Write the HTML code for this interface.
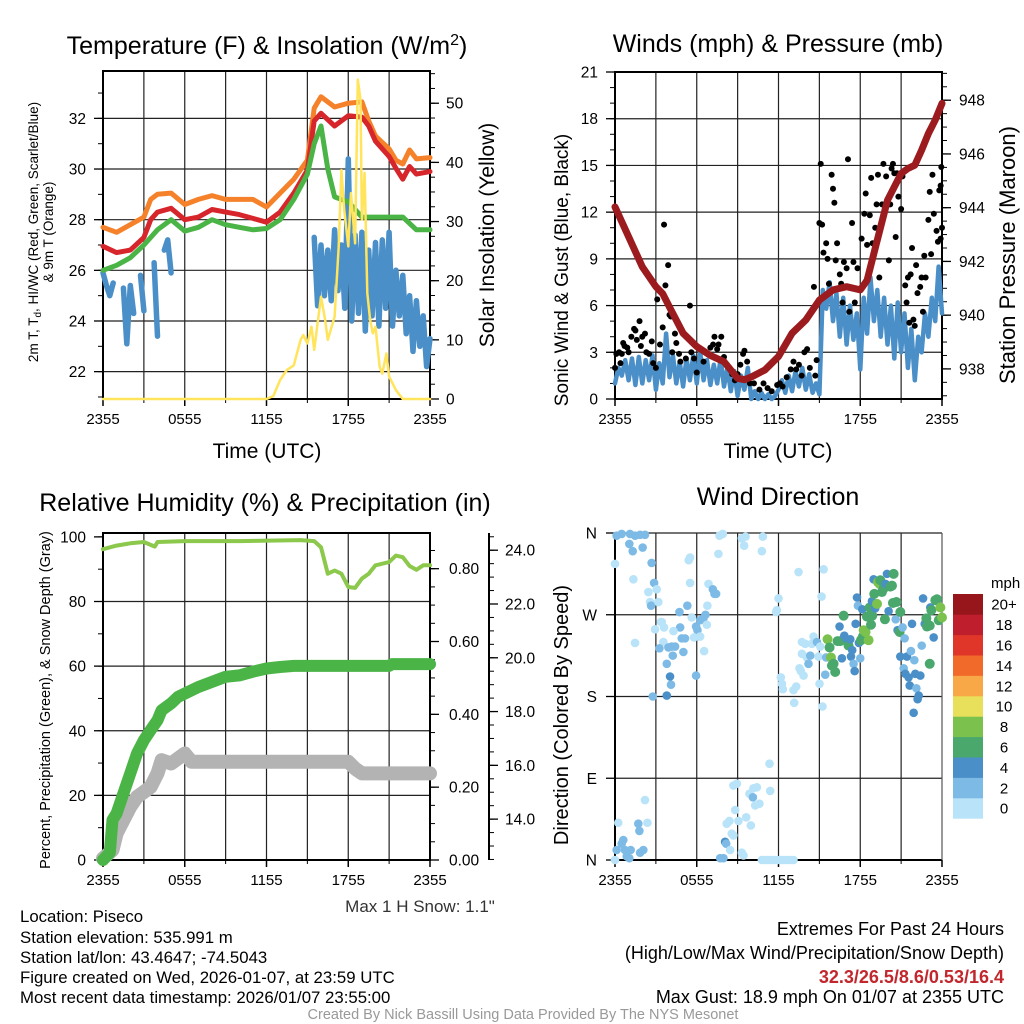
<!DOCTYPE html>
<html><head><meta charset="utf-8">
<style>
html,body{margin:0;padding:0;background:#fff;}
svg{display:block;font-family:"Liberation Sans",Arial,sans-serif;}
</style></head>
<body>
<svg id="fig" width="1024" height="1024" viewBox="0 0 1024 1024" xmlns="http://www.w3.org/2000/svg">
<rect width="1024" height="1024" fill="#fff"/>
<g id="p1"></g>
<g id="p2"></g>
<g id="p3"></g>
<g id="p4"></g>
<text x="267" y="54" font-size="25" text-anchor="middle">Temperature (F) &amp; Insolation (W/m<tspan dy="-9" font-size="16">2</tspan><tspan dy="9">)</tspan></text>
<text x="778" y="52" font-size="25" text-anchor="middle">Winds (mph) &amp; Pressure (mb)</text>
<text x="265" y="511" font-size="25" text-anchor="middle">Relative Humidity (%) &amp; Precipitation (in)</text>
<text x="778" y="505" font-size="25" text-anchor="middle">Wind Direction</text>
<text x="267" y="458" font-size="21" text-anchor="middle">Time (UTC)</text>
<text x="778" y="458" font-size="21" text-anchor="middle">Time (UTC)</text>
<text transform="translate(38,232) rotate(-90)" font-size="13.5" text-anchor="middle">2m T, T<tspan font-size="10" dy="3">d</tspan><tspan dy="-3">, HI/WC (Red, Green, Scarlet/Blue)</tspan></text>
<text transform="translate(53,232) rotate(-90)" font-size="13.5" text-anchor="middle">&amp; 9m T (Orange)</text>
<text transform="translate(494,235) rotate(-90)" font-size="21" text-anchor="middle">Solar Insolation (Yellow)</text>
<text transform="translate(568,270) rotate(-90)" font-size="19" text-anchor="middle">Sonic Wind &amp; Gust (Blue, Black)</text>
<text transform="translate(1015,255) rotate(-90)" font-size="22" text-anchor="middle">Station Pressure (Maroon)</text>
<text transform="translate(50,700) rotate(-90)" font-size="14.5" text-anchor="middle">Percent, Precipitation (Green), &amp; Snow Depth (Gray)</text>
<text transform="translate(568,715) rotate(-90)" font-size="20" text-anchor="middle">Direction (Colored By Speed)</text>
<text x="991" y="588" font-size="15">mph</text>
<text x="420" y="912" font-size="17" fill="#333" text-anchor="middle">Max 1 H Snow: 1.1"</text>
<g font-size="16.8">
<text x="20" y="922">Location: Piseco</text>
<text x="20" y="943">Station elevation: 535.991 m</text>
<text x="20" y="963">Station lat/lon: 43.4647; -74.5043</text>
<text x="20" y="983">Figure created on Wed, 2026-01-07, at 23:59 UTC</text>
<text x="20" y="1003">Most recent data timestamp: 2026/01/07 23:55:00</text>
</g>
<g font-size="18" text-anchor="end">
<text x="1004" y="935">Extremes For Past 24 Hours</text>
<text x="1004" y="959">(High/Low/Max Wind/Precipitation/Snow Depth)</text>
<text x="1004" y="983" fill="#c1272d" font-weight="bold">32.3/26.5/8.6/0.53/16.4</text>
<text x="1004" y="1003">Max Gust: 18.9 mph On 01/07 at 2355 UTC</text>
</g>
<text x="523" y="1019" font-size="14.5" fill="#999" text-anchor="middle">Created By Nick Bassill Using Data Provided By The NYS Mesonet</text>
</svg>
<script>
// ---------- data ----------
const timeTickLabels = ["2355","0555","1155","1755","2355"];
const lineHours = [0,1,2,3,3.5,4,5,6,7,8,9,10,11,12,13,14,15,15.5,16,17,18,19,19.5,20,21,21.5,22,22.5,23,24];
const temp2m = [26.95,26.7,26.8,27.3,28.0,28.3,28.45,28.0,28.1,28.4,28.3,28.2,28.05,27.9,28.3,29.05,29.96,31.9,32.2,31.7,32.1,32.05,31.7,31.1,30.5,30.03,29.6,30.1,29.8,29.9];
const temp9m = [27.7,27.5,27.8,28.1,28.8,29.0,29.05,28.6,28.8,28.95,28.8,28.8,28.8,28.5,29.05,29.6,30.35,32.4,32.85,32.45,32.6,32.65,31.9,31.3,30.8,30.35,30.2,30.75,30.4,30.45];
const heatIndexHours = [0,1,2,3,4,5,6,7,8,9,10,11,12,13,14,15,15.5,16,16.5,17,18,19,20,21,22,23,24];
const heatIndex = [26.0,26.2,26.5,27.0,27.6,28.0,27.55,27.7,28.0,27.8,27.7,27.6,27.65,28.0,28.8,29.8,31.0,31.7,30.0,28.9,28.7,28.1,28.1,28.1,28.1,27.6,27.6];
const dewHours = [0,0.25,0.5,0.75,1,1.25,1.5,1.75,2,2.25,2.5,2.75,3,3.25,3.5,3.75,4,4.25,4.5,4.75,5,5.25,15.25,15.5,15.75,16,16.25,16.5,16.75,17,17.25,17.5,17.75,18,18.25,18.5,18.75,19,19.25,19.5,19.75,20,20.25,20.5,20.75,21,21.25,21.5,21.75,22,22.25,22.5,22.75,23,23.25,23.5,23.75,24];
const dewPoint = [25.9,25.4,25.0,25.5,null,null,25.3,23.1,25.4,24.3,null,25.8,24.4,null,null,26.3,23.4,null,26.8,27.2,25.9,null,null,27.3,24.6,27.0,25.0,26.8,24.8,27.6,25.2,27.0,24.5,30.4,24.0,27.4,24.3,27.5,23.6,26.8,24.2,27.1,23.8,27.2,24.5,27.5,23.8,26.0,24.2,25.8,23.5,25.0,22.8,24.8,23.0,24.2,22.2,23.3];
const solarHours = [0,12,12.5,13,13.5,14,14.5,14.7,15,15.3,15.5,16,16.3,16.5,17,17.3,17.5,17.7,18,18.2,18.5,18.7,18.9,19,19.2,19.4,19.6,19.8,20,20.3,20.5,20.8,21,21.5,22,24];
const solarRad = [0,0,0.5,3.2,4.9,5.7,10,10.8,9.4,12.2,8.3,17.3,13.4,10,13.9,25.8,38.7,32,25.8,34.8,26.3,54,50.6,30.3,38.2,17.9,13.4,11.1,12.2,5.5,4.3,7.7,3.8,1.5,0,0];
const tempTicks = [22,24,26,28,30,32];
const solarTicks = [0,10,20,30,40,50];

const windHours = Array.from({length:97},(_,i)=>i*0.25);
const windSpeed = [1.0,2.0,1.5,2.5,1.2,2.6,0.9,2.7,1.0,2.5,1.2,2.8,0.6,2.3,1.0,4.2,1.4,2.8,1.0,2.4,0.8,2.6,1.2,2.8,1.0,3.0,1.2,2.5,0.9,2.2,1.0,2.6,0.8,2.0,0.5,1.8,0.2,1.5,0.6,2.0,0.0,0.5,0.0,0.4,0.0,0.3,0.0,0.2,0.6,1.2,0.4,1.5,0.5,1.8,0.8,2.0,0.6,1.6,0.4,1.0,0.3,7.0,5.8,7.5,5.0,6.8,4.0,6.5,3.5,6.0,3.8,5.5,1.9,6.5,4.2,7.8,5.0,7.0,4.0,6.5,3.5,6.0,2.6,6.2,3.0,5.5,2.0,4.5,1.2,4.0,3.0,5.5,4.0,6.5,5.0,8.5,5.5];
const gustHours = [0.0,0.1,0.3,0.4,0.5,0.6,0.7,0.9,1.0,1.2,1.4,1.5,1.6,1.8,1.9,2.0,2.2,2.3,2.5,2.7,2.8,3.0,3.1,3.3,3.5,3.6,3.7,3.9,4.0,4.1,4.2,4.4,4.5,4.7,4.8,5.2,5.5,5.6,5.8,6.0,6.3,6.5,6.8,7.0,7.2,7.3,7.5,7.6,7.8,8.0,8.2,8.4,8.6,8.8,9.0,9.2,9.4,9.5,9.7,9.9,10.2,10.6,10.9,11.2,11.5,11.9,12.1,12.3,12.6,12.9,13.1,13.3,13.5,13.7,13.9,14.1,14.3,14.6,14.7,14.8,15.0,15.1,15.2,15.3,15.5,15.6,15.7,15.9,16.0,16.1,16.2,16.3,16.5,16.6,16.7,16.8,17.0,17.1,17.2,17.4,17.5,17.6,17.8,17.9,18.1,18.3,18.4,18.5,18.7,18.8,18.9,19.1,19.2,19.3,19.4,19.6,19.7,19.9,20.1,20.2,20.3,20.4,20.5,20.6,20.7,20.8,21.0,21.1,21.3,21.4,21.5,21.6,21.7,21.8,21.9,22.0,22.1,22.2,22.4,22.5,22.6,22.7,22.8,23.0,23.1,23.2,23.3,23.4,23.6,23.7,23.8,23.9,24.0,23.9,23.95];
const gustSpeed = [2.0,2.9,3.0,2.3,2.9,3.6,3.4,3.3,3.0,4.0,4.5,4.4,3.8,5.0,3.4,4.0,4.2,3.0,2.9,3.7,2.3,2.0,6.4,3.5,4.6,11.2,7.3,8.6,5.4,5.3,3.0,4.2,3.6,2.9,2.4,2.6,6.0,3.0,2.6,1.7,3.2,2.4,2.9,3.3,3.5,4.0,3.2,3.5,4.0,2.7,2.2,2.0,1.6,1.2,1.6,2.2,2.9,3.1,2.4,1.0,1.0,0.6,1.0,0.7,0.5,0.9,1.0,0.8,1.4,1.9,2.4,1.9,2.2,1.5,3.0,3.2,2.0,7.2,1.5,2.5,11.3,15.1,11.2,9.4,10.0,9.0,7.4,14.4,13.5,12.6,8.9,10.0,8.0,7.4,6.2,8.8,8.4,15.4,5.6,11.3,8.8,6.2,8.4,7.0,10.3,11.9,13.2,9.9,11.8,14.2,10.0,11.0,12.5,14.4,7.8,12.5,15.1,14.3,8.9,12.5,14.8,15.1,14.5,10.4,14.5,13.0,12.2,14.3,7.3,6.2,7.8,4.9,8.0,9.7,5.1,4.7,8.6,6.8,7.2,7.8,5.6,9.2,7.8,11.5,13.3,9.3,14.4,11.9,10.8,10.1,13.4,13.7,11.0,10.3,14.9];
const pressureHours = [0,1,2,3,3.5,4,5,6,7,8,9,9.5,10,11,12,13,14,15,16,17,18,18.5,19,20,21,21.5,22,22.5,23,23.5,24];
const pressure = [944.03,942.92,941.8,941.06,940.8,940.3,939.33,938.83,938.5,938.27,937.65,937.6,937.7,937.96,938.46,939.33,939.82,940.56,940.94,941.06,940.94,941.3,942.3,944.28,945.27,945.46,945.58,946.14,946.76,947.26,947.88];
const windTicks = [0,3,6,9,12,15,18,21];
const pressureTicks = [938,940,942,944,946,948];

const rhHours = [0,1,2,3,3.8,4,6,10,14.5,15.5,16,16.5,17,17.5,18,18.5,19,19.5,20,21,21.5,22,22.5,23,23.5,24];
const relHumidity = [96.2,97.3,98,98.4,97,98.4,98.7,98.7,99,98.7,96.8,88.6,89.6,88.6,84.5,84.2,87.1,88.6,91.2,92.2,94.2,93.7,91.0,89.8,91.2,91.2];
const precipHours = [0,0.5,0.7,1,1.5,2,2.5,3,3.5,4,4.3,5,5.5,6,7,8,9,10,11,12,13,14,21,21.2,24];
const precip = [0,0.02,0.11,0.128,0.183,0.238,0.293,0.329,0.357,0.384,0.411,0.43,0.448,0.457,0.475,0.489,0.503,0.507,0.517,0.526,0.53,0.533,0.533,0.538,0.538];
const snowHours = [0,0.7,1,1.5,2,2.5,3,3.5,4,4.3,5,6,6.5,18,18.5,19,24];
const snowDepth = [12.54,12.85,13.47,13.96,14.46,14.83,15.01,15.2,15.7,16.19,16.07,16.44,16.13,16.13,15.88,15.7,15.7];
const rhTicks = [0,20,40,60,80,100];
const precipTicks = [0,0.2,0.4,0.6,0.8];
const precipTickLabels = ["0.00","0.20","0.40","0.60","0.80"];
const snowTicks = [14,16,18,20,22,24];
const snowTickLabels = ["14.0","16.0","18.0","20.0","22.0","24.0"];

const dirHours = [0.12,0.49,1.1,1.47,1.84,2.2,0,1.05,1.3,2.03, 1.35,2.69,2.87,3.06,2.45,2.57,2.65,3.18,3.43,2.94, 3.6,3.36,4.73,5.31,5.51,5.41,5.51,4.78,4.29,4.9, 5.14,3.55,3.26,3.92,4.16,4.41,4.24,5.02,3.8,4.04, 4.11,3.8,2.77,1.47,5.63,5.95,6.05,6.25,6.49,6.64, 6.74,5.8,6.25,6.54,5.95,6.86,7.18,7.3,7.42,6.78, 7.59,7.67,7.91,9.31,9.48,9.58,10.85,10.78, 12.0,11.88,11.83,12.17,12.25,12.32,13.1,13.3,13.15,13.47, 13.54,13.64,13.84,13.72,13.96,13.72,14.08,14.33,14.2,14.57, 14.45,14.82,15.06,14.94,15.01,15.23,15.31,15.16,15.43,15.5, 15.6,15.75,15.85,15.92,16.04,16.16,16.34,16.48,16.53,16.65, 16.78,16.83,17.02,17.14,17.27,17.32,17.41,17.51,17.59,17.66, 17.76,17.83,18.0,17.9,18.05,18.15,18.2,18.25,18.39,18.49, 18.61,18.69,18.79,18.86,18.88,18.98,19.03,19.1,19.23,19.3, 19.42,19.47,19.59,19.72,19.81,19.86,19.96,20.08,20.21,20.33, 20.45,20.4,20.6,20.65,20.74,20.89,20.94,21.11,21.26,20.94, 21.19,21.31,21.43,21.55,21.63,21.8,21.72,21.97,22.04,22.12, 22.29,22.21,22.41,22.51,21.92,22.61,22.73,22.9,22.85,23.1, 23.14,23.22,23.39,23.51,23.63,23.76,23.88,24.0,23.1, 0,0.24,0.12,0.49,0.61,0.73,0.86,1.05,1.15,1.71, 1.79,1.84,2.08,2.2,2.38,7.72,7.96,8.08,8.16,8.2, 8.4,8.45,8.57,8.69,8.82,8.69,8.94,9.06,9.31,9.43, 9.63,9.87,9.97,10.12,10.16,10.41,10.6,10.29,11.34,11.39, 10.78,10.97,11.16,11.35,11.55,11.74,11.94,12.13,12.33,12.52,12.72,12.91,13.1];
const dirDegrees = [357,359,359,357,358,358,326,348,340,344, 309,327,305,298,295,284,280,284,262,254, 256,262,273,280,333,330,305,256,252,244, 244,240,233,234,235,235,225,229,216,202, 193,181,180,239,267,257,253,264,266,270, 259,245,246,230,203,304,298,293,293,280, 337,357,359,354,346,356,356,340, 288,275,273,201,194,188,187,191,173,317, 211,208,203,240,238,227,223,225,216,246, 238,240,235,224,194,169,320,290,204,223, 243,234,223,214,216,207,241,257,241,222, 269,247,243,236,243,224,231,216,208,260, 289,280,222,239,242,276,246,253,251,268, 242,278,259,285,269,309,293,277,282,306, 304,308,295,299,265,304,315,274,301,302, 315,283,265,284,253,251,273,256,244,224, 211,205,224,201,192,260,230,220,205,189, 181,177,203,236,162,288,260,257,266,258, 278,275,245,286,287,264,278,267,216, 0,41,11,18,22,11,4,2,11,40, 32,8,11,66,41,2,2,20,18,40, 43,11,29,27,55,82,84,43,8,5, 47,73,38,69,79,80,62,60,106,76, 0,0,0,0,0,0,0,0,0,0,0,0,0];
const dirSpeeds = [3,3,3,3,3,3,1,3,3,3, 1,3,3,1,1,1,3,1,1,1, 1,1,3,3,1,1,1,3,1,3, 3,1,3,3,3,3,3,3,3,5, 3,5,3,1,1,3,3,3,3,3, 1,1,1,1,3,1,3,3,3,1, 1,1,1,1,1,1,1,1, 1,1,1,1,1,1,1,1,1,1, 1,1,1,1,1,1,1,3,3,1, 1,3,1,1,1,1,1,1,3,3, 9,7,9,7,7,7,7,5,7,5, 7,5,5,7,5,5,5,3,5,5, 5,3,3,5,7,5,7,9,9,7, 9,7,7,5,7,5,7,5,9,9, 9,7,7,7,7,5,5,5,7,7, 7,7,3,7,5,7,7,3,3,5, 3,5,5,5,5,5,3,3,5,3, 5,5,5,3,5,5,5,7,7,7, 5,7,5,7,7,7,9,9,7, 1,1,3,3,3,3,3,3,3,3, 3,3,3,1,1,3,3,5,3,1, 1,1,1,1,1,1,1,1,1,1, 1,1,1,3,1,1,1,1,1,1, 1,1,1,1,1,1,1,1,1,1,1,1,1];
const speedBins = ["0","2","4","6","8","10","12","14","16","18","20+"];
const speedColors = ["#b8e3f8","#7dbbe6","#4a8fc8","#4aa86c","#7ac14e","#e8e05a","#f9a848","#f26a2a","#e0362a","#bf1e2d","#97161c"];

// ---------- helpers ----------
const NS="http://www.w3.org/2000/svg";
function mk(parent,tag,attrs){const e=document.createElementNS(NS,tag);for(const k in attrs)e.setAttribute(k,attrs[k]);parent.appendChild(e);return e;}
function lin(d0,d1,r0,r1){return v=>r0+(v-d0)*(r1-r0)/(d1-d0);}
function pathD(xs,ys,fx,fy){let d="",pen=false;for(let i=0;i<xs.length;i++){if(ys[i]==null){pen=false;continue;}d+=(pen?"L":"M")+fx(xs[i]).toFixed(1)+","+fy(ys[i]).toFixed(1);pen=true;}return d;}
function line(g,xs,ys,fx,fy,color,w,name){const p=mk(g,"path",{d:pathD(xs,ys,fx,fy),fill:"none",stroke:color,"stroke-width":w,"stroke-linejoin":"round","stroke-linecap":"round"});


return p;}
function frame(g,P,nameP,hlines,fy,box){
  const fx=lin(0,24,P.x0,P.x1);
  for(let h=3;h<24;h+=3){const l=mk(g,"line",{x1:fx(h),x2:fx(h),y1:P.y0,y2:P.y1,stroke:"#222","stroke-width":1.2});
    
    }
  hlines.forEach(v=>{const y=fy(v);const l=mk(g,"line",{x1:P.x0,x2:P.x1,y1:y,y2:y,stroke:"#222","stroke-width":1.2});
    
    });
  if(box){const r=mk(g,"rect",{x:P.x0,y:P.y0,width:P.x1-P.x0,height:P.y1-P.y0,fill:"none",stroke:"#000","stroke-width":2});
    
    }
  else{const l=mk(g,"path",{d:`M${P.x0},${P.y0}V${P.y1}H${P.x1}`,fill:"none",stroke:"#000","stroke-width":2});
    
    }
  timeTickLabels.forEach((lab,i)=>{const x=fx(i*6);
    mk(g,"line",{x1:x,x2:x,y1:P.y1,y2:P.y1+7,stroke:"#000","stroke-width":1.5});
    const t=mk(g,"text",{x:x,y:P.y1+25,"font-size":15,"text-anchor":"middle"});t.textContent=lab;
    
    });
  for(let h=3;h<24;h+=6){const x=fx(h);mk(g,"line",{x1:x,x2:x,y1:P.y1,y2:P.y1+4,stroke:"#000","stroke-width":1});}
  return fx;
}
function yAxis(g,x,dir,ticks,labels,fy,minorStep,dmin,dmax,nameP,lx,anchor){
  ticks.forEach((v,i)=>{const y=fy(v);mk(g,"line",{x1:x,x2:x+dir*9,y1:y,y2:y,stroke:"#000","stroke-width":1.3});
    const t=mk(g,"text",{x:lx,y:y+5.5,"font-size":15.5,"text-anchor":anchor});t.textContent=labels[i];
    
    });
  if(minorStep){for(let v=Math.ceil(dmin/minorStep)*minorStep;v<=dmax;v+=minorStep){const y=fy(v);mk(g,"line",{x1:x,x2:x+dir*5,y1:y,y2:y,stroke:"#000","stroke-width":1});}}
}

// ---------- panel 1 ----------
(function(){
const g=document.getElementById("p1");
const P={x0:103,x1:430,y0:71,y1:399};
const fyT=lin(20.92,33.87,P.y1,P.y0), fyS=lin(0,55.45,P.y1,P.y0);
const fx=frame(g,P,"p1",tempTicks,fyT,true);
yAxis(g,P.x0,-1,tempTicks,tempTicks.map(String),fyT,1,20.92,33.87,"p1-left",86,"end");
yAxis(g,P.x1,1,solarTicks,solarTicks.map(String),fyS,2.5,0,55.45,"p1-right",446,"start");
line(g,dewHours,dewPoint,fx,fyT,"#4a8fc8",5.5,"dewpoint-line");
line(g,lineHours,temp9m,fx,fyT,"#f5822a",5,"temp-9m-line");
line(g,lineHours,temp2m,fx,fyT,"#d7262b",5,"temp-2m-line");
line(g,heatIndexHours,heatIndex,fx,fyT,"#4bb446",5,"heat-index-line");
line(g,solarHours,solarRad,fx,fyS,"#ffe45c",2.5,"solar-insolation-line");
})();

// ---------- panel 2 ----------
(function(){
const g=document.getElementById("p2");
const P={x0:615,x1:942,y0:72,y1:399};
const fyW=lin(0,21,P.y1,P.y0), fyP=lin(936.88,949.05,P.y1,P.y0);
const fx=frame(g,P,"p2",windTicks.slice(1,-1),fyW,true);
yAxis(g,P.x0,-1,windTicks,windTicks.map(String),fyW,1,0,21,"p2-left",598,"end");
yAxis(g,P.x1,1,pressureTicks,pressureTicks.map(String),fyP,0.5,936.9,949,"p2-right",959,"start");
line(g,windHours,windSpeed,fx,fyW,"#4a8fc8",4.5,"sonic-wind-line");
gustHours.forEach((h,i)=>{const c=mk(g,"circle",{cx:fx(h),cy:fyW(gustSpeed[i]),r:3,fill:"#000"});
  
  });
line(g,pressureHours,pressure,fx,fyP,"#9b1b1e",7,"pressure-line");
})();

// ---------- panel 3 ----------
(function(){
const g=document.getElementById("p3");
const P={x0:103,x1:430,y0:533,y1:860};
const fyR=lin(0,101.2,P.y1,P.y0), fyPr=lin(0,0.898,P.y1,P.y0), fyS=lin(12.48,24.64,P.y1,P.y0);
const fx=frame(g,P,"p3",[20,40,60,80],fyR,true);
yAxis(g,P.x0,-1,rhTicks,rhTicks.map(String),fyR,10,0,100,"p3-left",86,"end");
yAxis(g,P.x1,1,precipTicks,precipTickLabels,fyPr,0.05,0,0.898,"p3-precip",449,"start");
const ax=mk(g,"line",{x1:489,x2:489,y1:P.y0,y2:P.y1,stroke:"#000","stroke-width":2});


yAxis(g,489,1,snowTicks,snowTickLabels,fyS,0.5,12.5,24.6,"p3-snow",505,"start");
line(g,snowHours,snowDepth,fx,fyS,"#b3b3b3",14,"snow-depth-line");
line(g,precipHours,precip,fx,fyPr,"#4bb446",12,"precipitation-line");
line(g,rhHours,relHumidity,fx,fyR,"#8cc84b",4,"relative-humidity-line");
})();

// ---------- panel 4 ----------
(function(){
const g=document.getElementById("p4");
const P={x0:615,x1:942,y0:533,y1:860};
const fyD=lin(0,360,P.y1,P.y0);
const fx=frame(g,P,"p4",[90,180,270,360],fyD,false);
const dirLabels=["N","E","S","W","N"];
[0,90,180,270,360].forEach((v,i)=>{const y=fyD(v);mk(g,"line",{x1:P.x0,x2:P.x0-9,y1:y,y2:y,stroke:"#000","stroke-width":1.3});
  const t=mk(g,"text",{x:597,y:y+5.5,"font-size":15.5,"text-anchor":"end"});t.textContent=dirLabels[i];
  
  });
const r=mk(g,"line",{x1:P.x1,x2:P.x1,y1:P.y0,y2:P.y1,stroke:"#555","stroke-width":1.2});
dirHours.forEach((h,i)=>{const s=dirSpeeds[i];const bin=Math.min(10,Math.floor(s/2));
  const c=mk(g,"circle",{cx:fx(h),cy:fyD(dirDegrees[i]),r:s>=6?5:4.3,fill:speedColors[bin]});
  
  });
// colorbar
const cb0=594, cbH=20.4;
speedBins.forEach((lab,i)=>{const y=cb0+(10-i)*cbH;
  const b=mk(g,"rect",{x:953,y:y,width:30,height:cbH+0.3,fill:speedColors[i]});
  
  
  const t=mk(g,"text",{x:1004,y:y+cbH/2+5.5,"font-size":15,"text-anchor":"middle"});t.textContent=lab;
  
  });
})();
</script>
</body></html>
